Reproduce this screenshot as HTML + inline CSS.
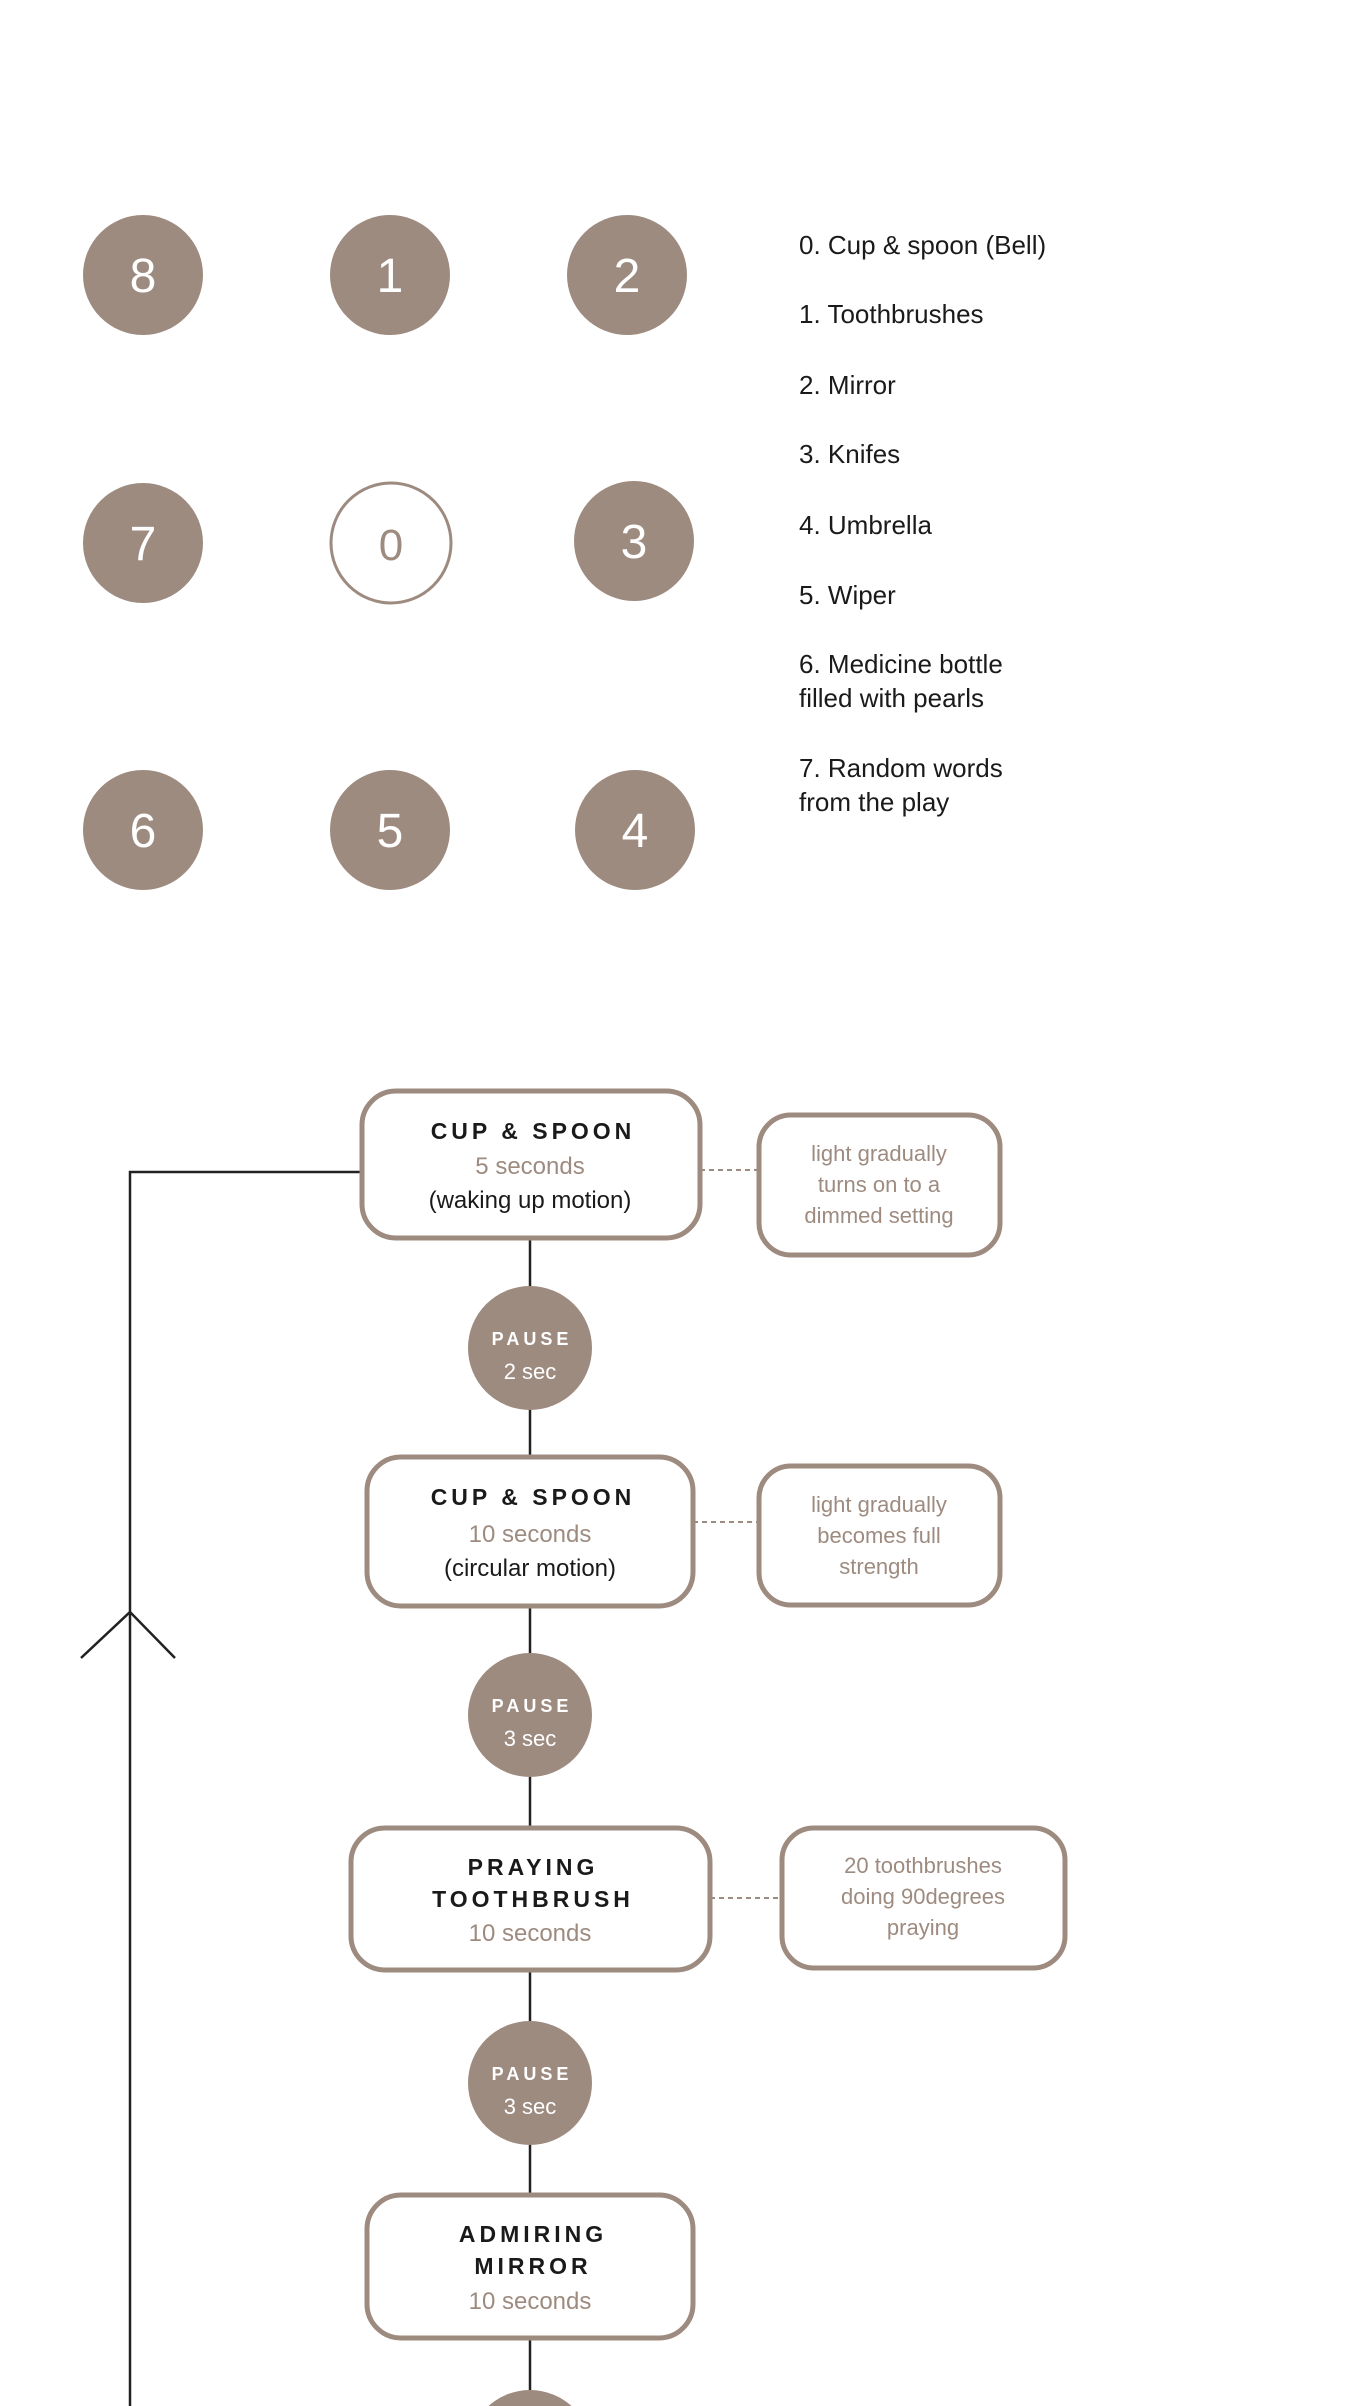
<!DOCTYPE html>
<html><head><meta charset="utf-8"><style>
html,body{margin:0;padding:0;background:#fff;}
svg{display:block;}
text{font-family:"Liberation Sans",sans-serif;}
</style></head><body>
<svg width="1358" height="2406" viewBox="0 0 1358 2406" xmlns="http://www.w3.org/2000/svg">
<g fill="#9e8b80">
<circle cx="143" cy="275" r="60"/><circle cx="390" cy="275" r="60"/><circle cx="627" cy="275" r="60"/>
<circle cx="143" cy="543" r="60"/><circle cx="634" cy="541" r="60"/>
<circle cx="143" cy="830" r="60"/><circle cx="390" cy="830" r="60"/><circle cx="635" cy="830" r="60"/>
</g>
<circle cx="391" cy="543" r="60" fill="#fff" stroke="#9e8b80" stroke-width="3"/>
<g font-size="48" fill="#fff" text-anchor="middle">
<text x="143" y="292">8</text><text x="390" y="292">1</text><text x="627" y="292">2</text>
<text x="143" y="560">7</text><text x="391" y="560" fill="#9e8b80" font-size="44">0</text><text x="634" y="558">3</text>
<text x="143" y="847">6</text><text x="390" y="847">5</text><text x="635" y="847">4</text>
</g>
<g font-size="26" fill="#1a1a1a">
<text x="799" y="254">0.  Cup &amp; spoon (Bell)</text>
<text x="799" y="323">1. Toothbrushes</text>
<text x="799" y="394">2. Mirror</text>
<text x="799" y="463">3. Knifes</text>
<text x="799" y="534">4. Umbrella</text>
<text x="799" y="604">5. Wiper</text>
<text x="799" y="673">6. Medicine bottle</text>
<text x="799" y="707">filled with pearls</text>
<text x="799" y="777">7. Random words</text>
<text x="799" y="811">from the play</text>
</g>
<g stroke="#222" stroke-width="2.5" fill="none">
<polyline points="362,1172 130,1172 130,2406"/>
<polyline points="81,1658 130,1612 175,1658"/>
<line x1="530" y1="1238" x2="530" y2="2406"/>
</g>
<g stroke="#9e8b80" stroke-width="2" stroke-dasharray="5,4">
<line x1="700" y1="1170" x2="759" y2="1170"/>
<line x1="693" y1="1522" x2="759" y2="1522"/>
<line x1="710" y1="1898" x2="782" y2="1898"/>
</g>
<g fill="#fff" stroke="#9e8b80" stroke-width="5">
<rect x="362" y="1091" width="338" height="147" rx="34"/>
<rect x="759" y="1115" width="241" height="140" rx="32"/>
<rect x="367" y="1457" width="326" height="149" rx="34"/>
<rect x="759" y="1466" width="241" height="139" rx="32"/>
<rect x="351" y="1828" width="359" height="142" rx="34"/>
<rect x="782" y="1828" width="283" height="140" rx="32"/>
<rect x="367" y="2195" width="326" height="143" rx="34"/>
</g>
<g fill="#9e8b80">
<circle cx="530" cy="1348" r="62"/><circle cx="530" cy="1715" r="62"/><circle cx="530" cy="2083" r="62"/><circle cx="530" cy="2452" r="62"/>
</g>
<g text-anchor="middle">
<g font-size="18" font-weight="bold" fill="#fff" letter-spacing="4">
<text x="532" y="1345">PAUSE</text><text x="532" y="1712">PAUSE</text><text x="532" y="2080">PAUSE</text>
</g>
<g font-size="22" fill="#fff">
<text x="530" y="1379">2 sec</text><text x="530" y="1746">3 sec</text><text x="530" y="2114">3 sec</text>
</g>
<g font-size="23" font-weight="bold" fill="#1a1a1a" letter-spacing="4">
<text x="533" y="1139">CUP &amp; SPOON</text>
<text x="533" y="1505">CUP &amp; SPOON</text>
<text x="533" y="1875">PRAYING</text>
<text x="533" y="1907">TOOTHBRUSH</text>
<text x="533" y="2242">ADMIRING</text>
<text x="533" y="2274">MIRROR</text>
</g>
<g font-size="24" fill="#9e8b80">
<text x="530" y="1174">5 seconds</text>
<text x="530" y="1542">10 seconds</text>
<text x="530" y="1941">10 seconds</text>
<text x="530" y="2309">10 seconds</text>
</g>
<g font-size="24" fill="#1a1a1a">
<text x="530" y="1208">(waking up motion)</text>
<text x="530" y="1576">(circular motion)</text>
</g>
<g font-size="22" fill="#9e8b80">
<text x="879" y="1161">light gradually</text>
<text x="879" y="1192">turns on to a</text>
<text x="879" y="1223">dimmed setting</text>
<text x="879" y="1512">light gradually</text>
<text x="879" y="1543">becomes full</text>
<text x="879" y="1574">strength</text>
<text x="923" y="1873">20 toothbrushes</text>
<text x="923" y="1904">doing 90degrees</text>
<text x="923" y="1935">praying</text>
</g>
</g>
</svg>
</body></html>
